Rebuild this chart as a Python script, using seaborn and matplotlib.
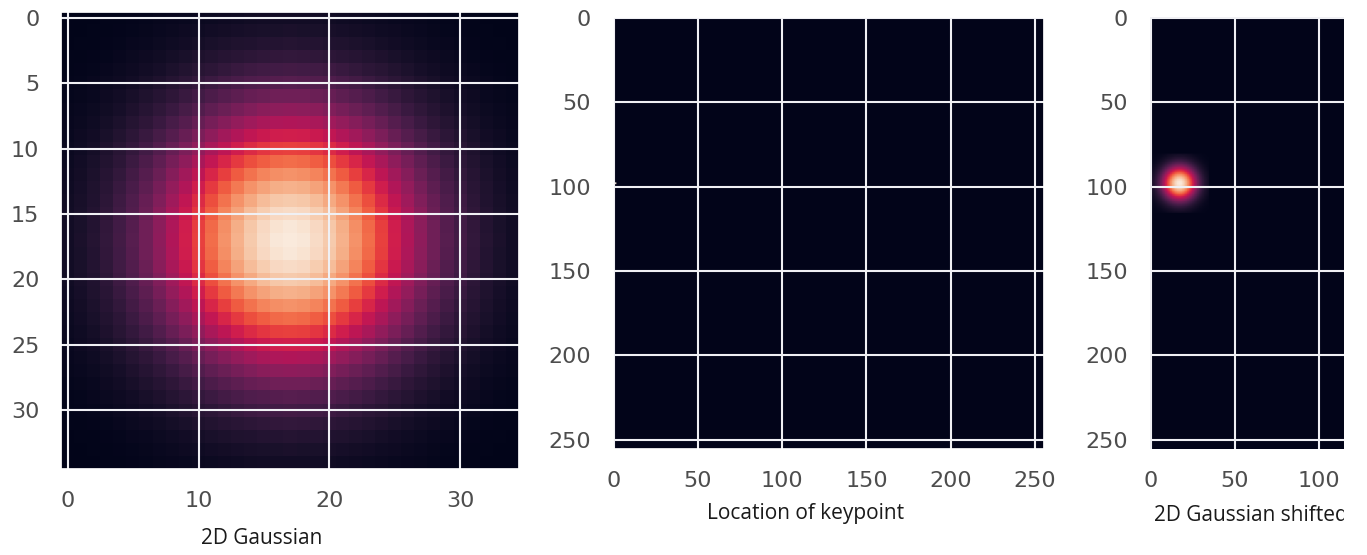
import numpy as np
import matplotlib
matplotlib.use("Agg")
import matplotlib.pyplot as plt
from matplotlib.transforms import Bbox
import seaborn as sns

# ---- data ----
gauss_size = 35            # 2D Gaussian kernel is 35 x 35 pixels
gauss_center = 17          # peak row/col of the kernel
gauss_sigma = 7.0
image_size = 256           # keypoint heatmap is 256 x 256
keypoint_xy = [1, 98]      # location of the keypoint (x, y)
shifted_center_xy = [17, 98]  # centre of the shifted Gaussian (x, y)

ticks_gauss = [0, 5, 10, 15, 20, 25, 30]
xticks_gauss = [0, 10, 20, 30]
ticks_image = [0, 50, 100, 150, 200, 250]
xticks_shift_visible = [0, 50, 100]

captions = ["2D Gaussian", "Location of keypoint", "2D Gaussian shifted to keypoint"]

# ---- build images ----
g = np.arange(gauss_size)
gy, gx = np.meshgrid(g, g, indexing="ij")
gauss = np.exp(-((gx - gauss_center) ** 2 + (gy - gauss_center) ** 2) / (2 * gauss_sigma ** 2))

kp_img = np.zeros((image_size, image_size))
kp_img[keypoint_xy[1], keypoint_xy[0]] = 1.0

shift_img = np.zeros((image_size, image_size))
x0 = shifted_center_xy[0] - gauss_center
y0 = shifted_center_xy[1] - gauss_center
shift_img[y0:y0 + gauss_size, x0:x0 + gauss_size] = gauss

# ---- style ----
sns.set_theme(style="darkgrid")
plt.rcParams["font.family"] = ["DejaVu Sans"]
cmap = sns.color_palette("rocket", as_cmap=True)

W, H = 1367, 555
fig = plt.figure(figsize=(W / 100, H / 100), dpi=100)
fig.patch.set_facecolor("white")

def px_axes(left, top, w, h):
    return fig.add_axes([left / W, 1 - (top + h) / H, w / W, h / H])

# the third panel is cropped at the right edge in the reference (at x ~ 1344 px)
crop_right = 1344
px_per_unit = 431 / image_size

ax1 = px_axes(61.5, 11.5, 457.5, 457.5)
ax2 = px_axes(613, 17, 431, 432)
ax3 = px_axes(1150, 17, crop_right - 1150, 432)

ax1.imshow(gauss, cmap=cmap, aspect="auto")
ax1.set_xticks(xticks_gauss)
ax1.set_yticks(ticks_gauss)

ax2.imshow(kp_img, cmap=cmap, aspect="auto")
ax2.set_xticks(ticks_image)
ax2.set_yticks(ticks_image)

ax3.imshow(shift_img, cmap=cmap, aspect="auto")
ax3.set_xlim(-0.5, -0.5 + (crop_right - 1150) / px_per_unit)
ax3.set_xticks(xticks_shift_visible)
ax3.set_yticks(ticks_image)
for s in ax3.spines.values():
    s.set_visible(False)

for ax in (ax1, ax2, ax3):
    ax.tick_params(labelsize=16, labelcolor="0.3", pad=10)
    ax.grid(True, color="#f0f0f4", linewidth=1.5)

cap_kw = dict(va="center", fontsize=15, family="Open Sans", color="0.1")
fig.text(262 / W, 1 - 538 / H, captions[0], ha="center", **cap_kw)
fig.text(806 / W, 1 - 514 / H, captions[1], ha="center", **cap_kw)
t3 = fig.text(1154 / W, 1 - 515 / H, captions[2], ha="left", **cap_kw)
t3.set_clip_box(Bbox.from_extents(0, 0, crop_right, H))
t3.set_clip_on(True)

fig.savefig("out.png", dpi=100)
